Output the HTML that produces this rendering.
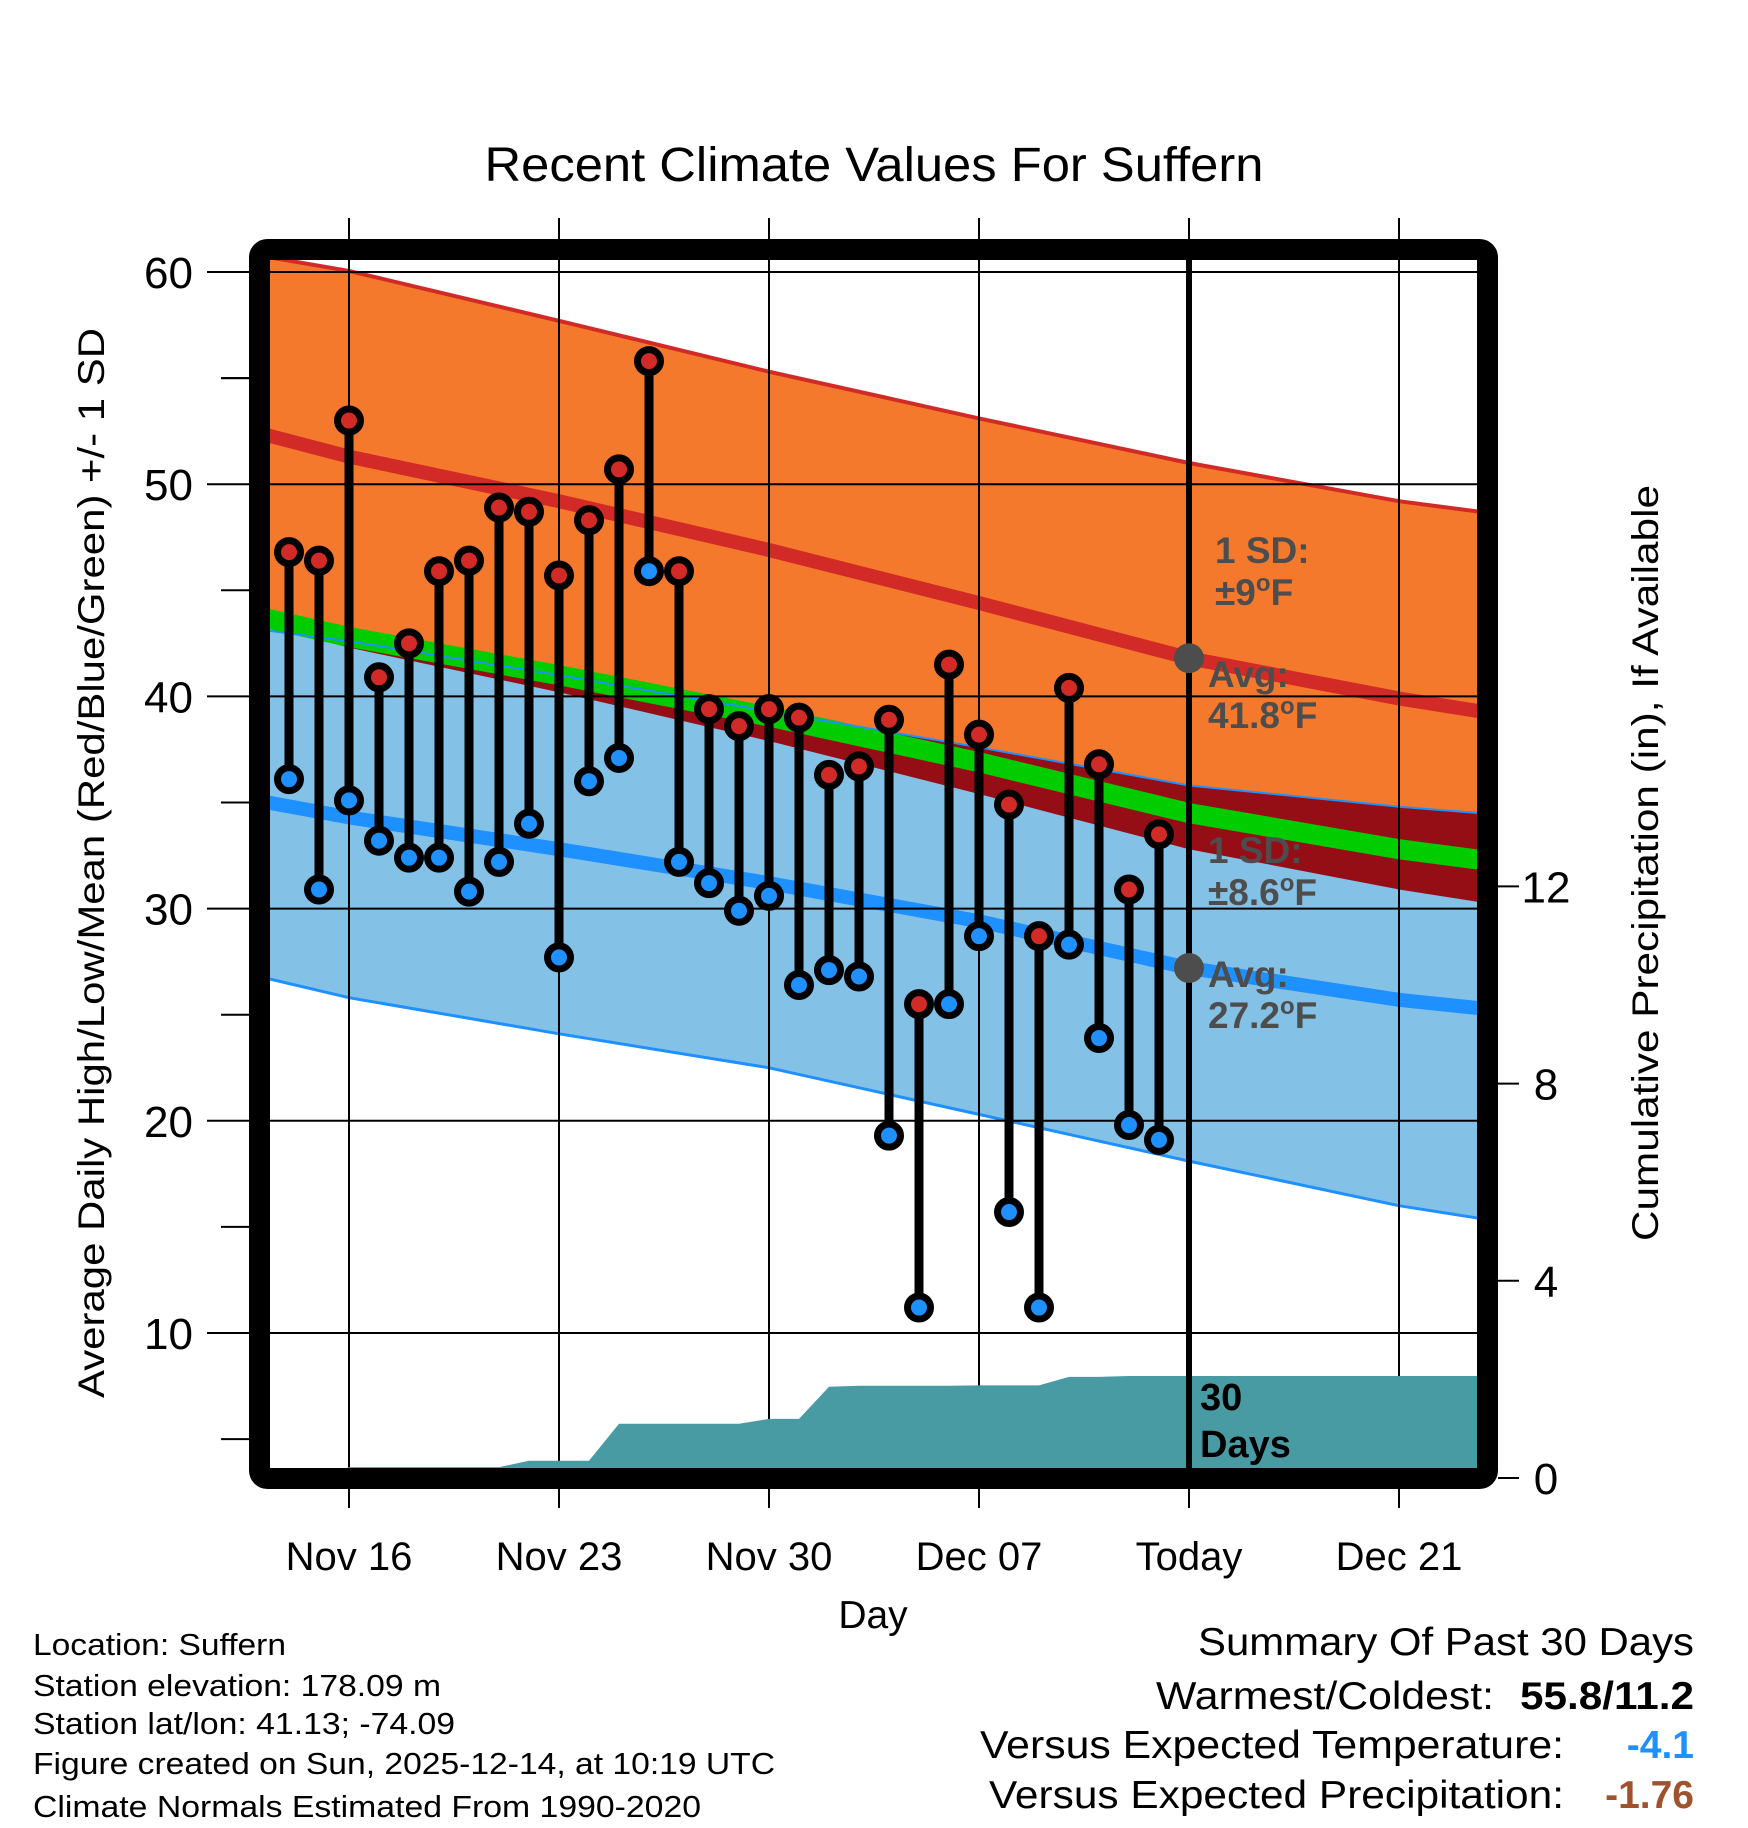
<!DOCTYPE html>
<html><head><meta charset="utf-8"><style>
html,body{margin:0;padding:0;background:#fff;}
svg{display:block;font-family:"Liberation Sans",Arial,sans-serif;}
</style></head><body>
<svg id="chart" width="1748" height="1828" viewBox="0 0 1748 1828" xmlns="http://www.w3.org/2000/svg">
<defs><clipPath id="plotclip"><rect x="270" y="260" width="1208" height="1208"/></clipPath></defs>
<text x="874" y="181" font-size="48" text-anchor="middle" textLength="779" lengthAdjust="spacingAndGlyphs">Recent Climate Values For Suffern</text>
<g id="plot" clip-path="url(#plotclip)"></g>
<g id="axes"></g>
<rect x="259.5" y="249.5" width="1228" height="1229" fill="none" stroke="#000" stroke-width="21" rx="8"/>
<g id="marks"></g>
<text transform="translate(104,863) rotate(-90)" font-size="37" text-anchor="middle" textLength="1070" lengthAdjust="spacingAndGlyphs">Average Daily High/Low/Mean (Red/Blue/Green) +/- 1 SD</text>
<text transform="translate(1658,863) rotate(-90)" font-size="37" text-anchor="middle" textLength="756" lengthAdjust="spacingAndGlyphs">Cumulative Precipitation (in), If Available</text>
<text x="873" y="1628" font-size="39" text-anchor="middle">Day</text>
<g font-size="31">
<text x="33" y="1655" textLength="253" lengthAdjust="spacingAndGlyphs">Location: Suffern</text>
<text x="33" y="1696" textLength="408" lengthAdjust="spacingAndGlyphs">Station elevation: 178.09 m</text>
<text x="33" y="1734" textLength="422" lengthAdjust="spacingAndGlyphs">Station lat/lon: 41.13; -74.09</text>
<text x="33" y="1774" textLength="742" lengthAdjust="spacingAndGlyphs">Figure created on Sun, 2025-12-14, at 10:19 UTC</text>
<text x="33" y="1817" textLength="668" lengthAdjust="spacingAndGlyphs">Climate Normals Estimated From 1990-2020</text>
</g>
<g font-size="39">
<text x="1198" y="1655" textLength="496" lengthAdjust="spacingAndGlyphs">Summary Of Past 30 Days</text>
<text x="1156" y="1709" textLength="338" lengthAdjust="spacingAndGlyphs">Warmest/Coldest:</text>
<text x="1520" y="1709" font-weight="bold" textLength="174" lengthAdjust="spacingAndGlyphs">55.8/11.2</text>
<text x="980" y="1758" textLength="584" lengthAdjust="spacingAndGlyphs">Versus Expected Temperature:</text>
<text x="1694" y="1758" font-weight="bold" fill="#1e90ff" text-anchor="end">-4.1</text>
<text x="989" y="1808" textLength="575" lengthAdjust="spacingAndGlyphs">Versus Expected Precipitation:</text>
<text x="1694" y="1808" font-weight="bold" fill="#a0522d" text-anchor="end">-1.76</text>
</g>
</svg>
<script>
// ---- data ----
const highs = [46.8,46.4,53.0,40.9,42.5,45.9,46.4,48.9,48.7,45.7,48.3,50.7,55.8,45.9,39.4,38.6,39.4,39.0,36.3,36.7,38.9,25.5,41.5,38.2,34.9,28.7,40.4,36.8,30.9,33.5];
const lows  = [36.1,30.9,35.1,33.2,32.4,32.4,30.8,32.2,34.0,27.7,36.0,37.1,45.9,32.2,31.2,29.9,30.6,26.4,27.1,26.8,19.3,11.2,25.5,28.7,15.7,11.2,28.3,23.9,19.8,19.1];
const precip = [0,0,0.22,0.22,0.22,0.22,0.22,0.22,0.35,0.35,0.35,1.1,1.1,1.1,1.1,1.1,1.2,1.2,1.85,1.87,1.87,1.87,1.87,1.88,1.88,1.88,2.05,2.05,2.07,2.07];
const normDays   = [-0.7,2,9,16,23,30,37,39.7];
const meanHigh   = [52.3,51.3,49.2,46.9,44.4,41.8,39.9,39.3];
const highUpper  = [60.7,60.05,57.7,55.3,53.1,51.0,49.2,48.7];
const highLower  = [43.3,42.3,40.2,37.9,35.4,32.8,30.9,30.3];
const meanLow    = [35.0,34.3,32.8,31.2,29.4,27.2,25.7,25.3];
const lowUpper   = [43.1,42.6,41.0,39.3,37.6,35.8,34.8,34.5];
const lowLower   = [26.7,25.8,24.1,22.5,20.3,18.1,16.0,15.4];
const yTicks = [10,20,30,40,50,60];
const y2Ticks = [0,4,8,12];
const xTickDays = [2,9,16,23,30,37];
const xTickLabels = ["Nov 16","Nov 23","Nov 30","Dec 07","Today","Dec 21"];
const todayDay = 30;
const todayHigh = 41.8, todayLow = 27.2;

// ---- scales ----
const X = d => 289 + 30*d;
const Y = v => 272 + (60 - v)*21.22;
const P = p => 1478 - p*49.3;
const NS = "http://www.w3.org/2000/svg";
function mk(parent, tag, attrs){const e=document.createElementNS(NS,tag);for(const k in attrs)e.setAttribute(k,attrs[k]);parent.appendChild(e);return e;}
function linePts(days, vals){return days.map((d,i)=>X(d).toFixed(1)+","+Y(vals[i]).toFixed(1));}
function band(days, up, lo){return linePts(days,up).concat(linePts(days,lo).reverse()).join(" ");}

const plot = document.getElementById("plot");
const axes = document.getElementById("axes");
const marks = document.getElementById("marks");
const rightDay = normDays[normDays.length-1];

let e;
e = mk(plot,"polygon",{points:band(normDays,highUpper,highLower),fill:"#f4792c"});
 
e = mk(plot,"polygon",{points:band(normDays,lowUpper,lowLower),fill:"#84c1e6"});
 
const cp = mk(plot,"clipPath",{id:"highclip"});
mk(cp,"polygon",{points:band(normDays,highUpper,highLower)});
e = mk(plot,"polygon",{points:band(normDays,lowUpper,lowLower),fill:"#950e16","clip-path":"url(#highclip)"});
 

const meanAvg = meanHigh.map((v,i)=>(v+meanLow[i])/2);
e = mk(plot,"polyline",{points:linePts(normDays,meanAvg).join(" "),fill:"none",stroke:"#00cc00","stroke-width":20});
 
e = mk(plot,"polyline",{points:linePts(normDays,lowUpper).join(" "),fill:"none",stroke:"#1e90ff","stroke-width":2});
 
e = mk(plot,"polyline",{points:linePts(normDays,lowLower).join(" "),fill:"none",stroke:"#1e90ff","stroke-width":3});
 
e = mk(plot,"polyline",{points:linePts(normDays,meanLow).join(" "),fill:"none",stroke:"#1e90ff","stroke-width":14});
 
e = mk(plot,"polyline",{points:linePts(normDays,highUpper).join(" "),fill:"none",stroke:"#d22a26","stroke-width":4});
 
e = mk(plot,"polyline",{points:linePts(normDays,meanHigh).join(" "),fill:"none",stroke:"#d22a26","stroke-width":14});
 

yTicks.forEach(v=>{
  const g = mk(axes,"line",{x1:207,x2:1478,y1:Y(v),y2:Y(v),stroke:"#000","stroke-width":2});
   
  const t = mk(axes,"text",{x:193,y:Y(v)+16,"font-size":44,"text-anchor":"end"});
  t.textContent = v;
   
  const m = mk(axes,"line",{x1:221,x2:249,y1:Y(v-5),y2:Y(v-5),stroke:"#000","stroke-width":2});
   
});
{const m = mk(axes,"line",{x1:221,x2:249,y1:Y(55),y2:Y(55),stroke:"#000","stroke-width":2});
 }
xTickDays.forEach((d,i)=>{
  const g = mk(axes,"line",{x1:X(d),x2:X(d),y1:218,y2:1508,stroke:"#000","stroke-width":2});
   
  const t = mk(axes,"text",{x:X(d),y:1570,"font-size":40,"text-anchor":"middle"});
  t.textContent = xTickLabels[i];
   
});
y2Ticks.forEach(p=>{
  const g = mk(axes,"line",{x1:1498,x2:1519,y1:P(p),y2:P(p),stroke:"#000","stroke-width":2});
   
  const t = mk(axes,"text",{x:1546,y:P(p)+16,"font-size":44,"text-anchor":"middle"});
  t.textContent = p;
   
});

const pg = mk(axes,"g",{"clip-path":"url(#plotclip)"});
let pp = [X(-0.7)+","+P(0)];
pp.push(X(-0.7)+","+P(precip[0]));
precip.forEach((p,i)=>pp.push(X(i)+","+P(p)));
pp.push(X(rightDay)+","+P(precip[precip.length-1]));
pp.push(X(rightDay)+","+P(0));
e = mk(pg,"polygon",{points:pp.join(" "),fill:"#489aa3"});
 

e = mk(marks,"line",{x1:X(todayDay),x2:X(todayDay),y1:260,y2:1468,stroke:"#000","stroke-width":6});
 
e = mk(marks,"text",{x:1200,y:1410,"font-size":38,"font-weight":"bold"}); e.textContent="30";
 
e = mk(marks,"text",{x:1200,y:1457,"font-size":38,"font-weight":"bold"}); e.textContent="Days";
 

highs.forEach((h,i)=>{
  const l = lows[i];
  const s = mk(marks,"line",{x1:X(i),x2:X(i),y1:Y(h),y2:Y(l),stroke:"#000","stroke-width":9});
   
  const a = mk(marks,"circle",{cx:X(i),cy:Y(h),r:11.5,fill:"#d22a26",stroke:"#000","stroke-width":7});
   
  const b = mk(marks,"circle",{cx:X(i),cy:Y(l),r:11.5,fill:"#1e90ff",stroke:"#000","stroke-width":7});
   
});
e = mk(marks,"circle",{cx:X(todayDay),cy:Y(todayHigh),r:15,fill:"#4d4d4d"});
 
e = mk(marks,"circle",{cx:X(todayDay),cy:Y(todayLow),r:15,fill:"#4d4d4d"});
 
const ann = [
 [1215,563,"1 SD:"],[1215,605,"±9<tspan dy='-14' font-size='24'>o</tspan><tspan dy='14'>F</tspan>"],
 [1208,687,"Avg:"],[1208,728,"41.8<tspan dy='-14' font-size='24'>o</tspan><tspan dy='14'>F</tspan>"],
 [1208,863,"1 SD:"],[1208,905,"±8.6<tspan dy='-14' font-size='24'>o</tspan><tspan dy='14'>F</tspan>"],
 [1208,987,"Avg:"],[1208,1028,"27.2<tspan dy='-14' font-size='24'>o</tspan><tspan dy='14'>F</tspan>"]
];
ann.forEach(a=>{
  const t = mk(marks,"text",{x:a[0],y:a[1],"font-size":37,"font-weight":"bold",fill:"#4d4d4d"});
  t.innerHTML = a[2];
   
});
</script>
</body></html>
